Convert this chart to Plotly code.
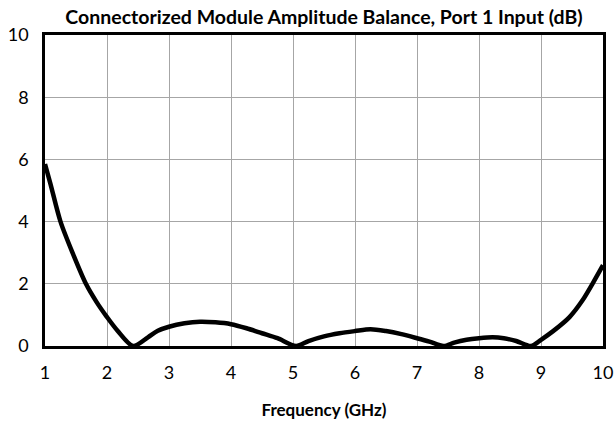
import plotly.graph_objects as go

freq_ghz = [1.0, 1.09, 1.25, 1.45, 1.66, 1.83, 2.0, 2.17, 2.42, 2.66, 2.82, 3.0, 3.25, 3.5, 3.75,
            4.0, 4.25, 4.5, 4.75, 5.05, 5.25, 5.5, 5.75, 6.0, 6.25, 6.5, 6.75, 7.0, 7.2,
            7.43, 7.6, 7.8, 8.0, 8.22, 8.4, 8.6, 8.84, 9.0, 9.19, 9.46, 9.67, 9.83, 10.0]
balance_db = [5.85, 5.2, 4.0, 2.97, 2.0, 1.42, 0.93, 0.49, 0.0, 0.28, 0.49, 0.62, 0.73, 0.78, 0.76,
              0.7, 0.57, 0.41, 0.25, 0.0, 0.16, 0.31, 0.41, 0.48, 0.54, 0.48, 0.38, 0.25, 0.14,
              0.0, 0.11, 0.2, 0.25, 0.28, 0.25, 0.16, 0.0, 0.2, 0.47, 0.93, 1.47, 2.0, 2.6]

title_text = "Connectorized Module Amplitude Balance, Port 1 Input (dB)"
x_title = "Frequency (GHz)"

FONT = "Lato"
W, H = 616, 422

fig = go.Figure()
fig.add_trace(go.Scatter(
    x=freq_ghz, y=balance_db, mode="lines",
    line=dict(color="black", width=4.5, shape="spline", smoothing=0.8),
    showlegend=False, hoverinfo="x+y",
))

fig.update_layout(
    width=W, height=H,
    margin=dict(l=45, r=13, t=35, b=76),
    paper_bgcolor="white", plot_bgcolor="white",
    font=dict(family=FONT, color="black", size=18),
    title=dict(text="<b>" + title_text + "</b>", x=0.5, xref="paper",
               xanchor="center", y=1 - 17 / H, yanchor="middle",
               font=dict(family=FONT, size=19.5, color="black")),
)
fig.update_xaxes(
    range=[1, 10], dtick=1, tick0=1,
    showgrid=True, gridcolor="#a6a6a6", gridwidth=1,
    showline=True, linecolor="black", linewidth=2.5, mirror=True,
    zeroline=False, ticks="", ticklabelstandoff=9, automargin=False,
    ticklabeloverflow="allow",
    tickfont=dict(family=FONT, size=18, color="black"),
    title=dict(text="<b>" + x_title + "</b>", standoff=22,
               font=dict(family=FONT, size=17, color="black")),
)
fig.update_yaxes(
    range=[0, 10], dtick=2, tick0=0,
    showgrid=True, gridcolor="#a6a6a6", gridwidth=1,
    showline=True, linecolor="black", linewidth=2.5, mirror=True,
    zeroline=False, ticks="", ticklabelstandoff=10, automargin=False,
    ticklabeloverflow="allow",
    tickfont=dict(family=FONT, size=18, color="black"),
)

# remove the default 8px page margin so the 616x422 figure fills the window exactly
fig.write_html("out.html",
               config={"displayModeBar": False},
               post_script="document.body.style.margin='0';document.body.style.overflow='hidden';")
